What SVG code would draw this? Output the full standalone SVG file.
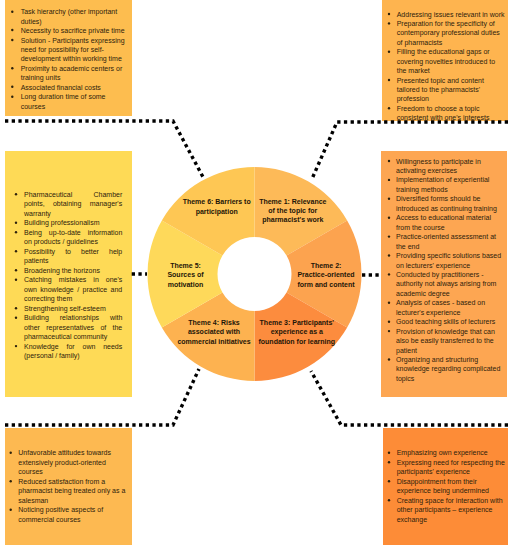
<svg xmlns="http://www.w3.org/2000/svg" width="514" height="550" viewBox="0 0 514 550">
<style>
.t{font-family:"Liberation Sans",Arial,sans-serif;font-size:7px;fill:#2e220c}
.th{font-family:"Liberation Sans",Arial,sans-serif;font-size:7px;font-weight:bold;fill:#1e1608;text-anchor:middle}
.b{fill:#2e220c}
.c{fill:none;stroke:#000;stroke-width:3.4;stroke-dasharray:3.3 3.4}
</style>
<rect width="514" height="550" fill="#fff"/>

<g id="box-barriers">
<rect x="5" y="0" width="127" height="116" fill="#FDBD4F"/>
<circle class="b" cx="12.3" cy="11.7" r="1.2"/><circle class="b" cx="12.3" cy="30" r="1.2"/><circle class="b" cx="12.3" cy="40" r="1.2"/><circle class="b" cx="12.3" cy="68.3" r="1.2"/><circle class="b" cx="12.3" cy="86.7" r="1.2"/><circle class="b" cx="12.3" cy="96.7" r="1.2"/>
<text class="t">
<tspan x="20.7" y="14.2">Task hierarchy (other important</tspan>
<tspan x="20.7" y="23.6">duties)</tspan>
<tspan x="20.7" y="33">Necessity to sacrifice private time</tspan>
<tspan x="20.7" y="42.5">Solution - Participants expressing</tspan>
<tspan x="20.7" y="51.9">need for possibility for self-</tspan>
<tspan x="20.7" y="61.3">development within working time</tspan>
<tspan x="20.7" y="70.8">Proximity to academic centers or</tspan>
<tspan x="20.7" y="80.2">training units</tspan>
<tspan x="20.7" y="89.6">Associated financial costs</tspan>
<tspan x="20.7" y="99.1">Long duration time of some</tspan>
<tspan x="20.7" y="108.5">courses</tspan>
</text>
</g>

<g id="box-relevance">
<rect x="382" y="0" width="126" height="121" fill="#FEB44F"/>
<circle class="b" cx="389" cy="14" r="1.2"/><circle class="b" cx="389" cy="23.4" r="1.2"/><circle class="b" cx="389" cy="51.7" r="1.2"/><circle class="b" cx="389" cy="80" r="1.2"/><circle class="b" cx="389" cy="108.3" r="1.2"/>
<text class="t">
<tspan x="396.7" y="16.5">Addressing issues relevant in work</tspan>
<tspan x="396.7" y="25.9">Preparation for the specificity of</tspan>
<tspan x="396.7" y="35.4">contemporary professional duties</tspan>
<tspan x="396.7" y="44.8">of pharmacists</tspan>
<tspan x="396.7" y="54.2">Filling the educational gaps or</tspan>
<tspan x="396.7" y="63.7">covering novelties introduced to</tspan>
<tspan x="396.7" y="73.1">the market</tspan>
<tspan x="396.7" y="82.5">Presented topic and content</tspan>
<tspan x="396.7" y="91.9">tailored to the pharmacists'</tspan>
<tspan x="396.7" y="101.4">profession</tspan>
<tspan x="396.7" y="110.8">Freedom to choose a topic</tspan>
<tspan x="396.7" y="120.2">consistent with one's interests</tspan>
</text>
</g>

<g id="box-motivation">
<rect x="5" y="151" width="127" height="246" fill="#FEDA56"/>
<circle class="b" cx="16" cy="194.3" r="1.2"/><circle class="b" cx="16" cy="222.8" r="1.2"/><circle class="b" cx="16" cy="232.3" r="1.2"/><circle class="b" cx="16" cy="251.2" r="1.2"/><circle class="b" cx="16" cy="270.2" r="1.2"/><circle class="b" cx="16" cy="279.7" r="1.2"/><circle class="b" cx="16" cy="308.2" r="1.2"/><circle class="b" cx="16" cy="317.7" r="1.2"/><circle class="b" cx="16" cy="346.1" r="1.2"/>
<text class="t">
<tspan x="24" y="196.8" word-spacing="19.3">Pharmaceutical Chamber</tspan>
<tspan x="24" y="206.3" word-spacing="6.4">points, obtaining manager's</tspan>
<tspan x="24" y="215.8">warranty</tspan>
<tspan x="24" y="225.3">Building professionalism</tspan>
<tspan x="24" y="234.8" word-spacing="5">Being up-to-date information</tspan>
<tspan x="24" y="244.2">on products / guidelines</tspan>
<tspan x="24" y="253.7" word-spacing="8.1">Possibility to better help</tspan>
<tspan x="24" y="263.2">patients</tspan>
<tspan x="24" y="272.7">Broadening the horizons</tspan>
<tspan x="24" y="282.2" word-spacing="5.1">Catching mistakes in one's</tspan>
<tspan x="24" y="291.7" word-spacing="1.5">own knowledge / practice and</tspan>
<tspan x="24" y="301.2">correcting them</tspan>
<tspan x="24" y="310.7">Strengthening self-esteem</tspan>
<tspan x="24" y="320.2" word-spacing="8.9">Building relationships with</tspan>
<tspan x="24" y="329.7" word-spacing="4.35">other representatives of the</tspan>
<tspan x="24" y="339.2">pharmaceutical community</tspan>
<tspan x="24" y="348.6" word-spacing="5.9">Knowledge for own needs</tspan>
<tspan x="24" y="358.1">(personal / family)</tspan>
</text>
</g>

<g id="box-practice">
<rect x="381" y="151" width="126" height="246" fill="#FDA652"/>
<circle class="b" cx="389" cy="161" r="1.2"/><circle class="b" cx="389" cy="179.9" r="1.2"/><circle class="b" cx="389" cy="198.8" r="1.2"/><circle class="b" cx="389" cy="217.7" r="1.2"/><circle class="b" cx="389" cy="236.6" r="1.2"/><circle class="b" cx="389" cy="255.5" r="1.2"/><circle class="b" cx="389" cy="274.4" r="1.2"/><circle class="b" cx="389" cy="302.8" r="1.2"/><circle class="b" cx="389" cy="321.7" r="1.2"/><circle class="b" cx="389" cy="331.1" r="1.2"/><circle class="b" cx="389" cy="359.5" r="1.2"/>
<text class="t">
<tspan x="396" y="163.5">Willingness to participate in</tspan>
<tspan x="396" y="173">activating exercises</tspan>
<tspan x="396" y="182.4">Implementation of experiential</tspan>
<tspan x="396" y="191.9">training methods</tspan>
<tspan x="396" y="201.3">Diversified forms should be</tspan>
<tspan x="396" y="210.8">introduced as continuing training</tspan>
<tspan x="396" y="220.2">Access to educational material</tspan>
<tspan x="396" y="229.7">from the course</tspan>
<tspan x="396" y="239.1">Practice-oriented assessment at</tspan>
<tspan x="396" y="248.6">the end</tspan>
<tspan x="396" y="258">Providing specific solutions based</tspan>
<tspan x="396" y="267.5">on lecturers' experience</tspan>
<tspan x="396" y="276.9">Conducted by practitioners -</tspan>
<tspan x="396" y="286.4">authority not always arising from</tspan>
<tspan x="396" y="295.8">academic degree</tspan>
<tspan x="396" y="305.3">Analysis of cases - based on</tspan>
<tspan x="396" y="314.7">lecturer's experience</tspan>
<tspan x="396" y="324.2">Good teaching skills of lecturers</tspan>
<tspan x="396" y="333.6">Provision of knowledge that can</tspan>
<tspan x="396" y="343.1">also be easily transferred to the</tspan>
<tspan x="396" y="352.5">patient</tspan>
<tspan x="396" y="362">Organizing and structuring</tspan>
<tspan x="396" y="371.4">knowledge regarding complicated</tspan>
<tspan x="396" y="380.9">topics</tspan>
</text>
</g>

<g id="box-risks">
<rect x="5" y="428" width="127" height="117" fill="#FDB951"/>
<circle class="b" cx="10.7" cy="452.7" r="1.2"/><circle class="b" cx="10.7" cy="481.2" r="1.2"/><circle class="b" cx="10.7" cy="509.7" r="1.2"/>
<text class="t">
<tspan x="18.3" y="455.2">Unfavorable attitudes towards</tspan>
<tspan x="18.3" y="464.7">extensively product-oriented</tspan>
<tspan x="18.3" y="474.2">courses</tspan>
<tspan x="18.3" y="483.7">Reduced satisfaction from a</tspan>
<tspan x="18.3" y="493.2">pharmacist being treated only as a</tspan>
<tspan x="18.3" y="502.7">salesman</tspan>
<tspan x="18.3" y="512.2">Noticing positive aspects of</tspan>
<tspan x="18.3" y="521.8">commercial courses</tspan>
</text>
</g>

<g id="box-experience">
<rect x="383" y="428" width="125" height="117" fill="#FD8C37"/>
<circle class="b" cx="389" cy="452.7" r="1.2"/><circle class="b" cx="389" cy="462.2" r="1.2"/><circle class="b" cx="389" cy="481.2" r="1.2"/><circle class="b" cx="389" cy="500.2" r="1.2"/>
<text class="t">
<tspan x="396.7" y="455.2">Emphasizing own experience</tspan>
<tspan x="396.7" y="464.7">Expressing need for respecting the</tspan>
<tspan x="396.7" y="474.2">participants' experience</tspan>
<tspan x="396.7" y="483.7">Disappointment from their</tspan>
<tspan x="396.7" y="493.2">experience being undermined</tspan>
<tspan x="396.7" y="502.7">Creating space for interaction with</tspan>
<tspan x="396.7" y="512.2">other participants – experience</tspan>
<tspan x="396.7" y="521.8">exchange</tspan>
</text>
</g>

<g id="theme1">
<path d="M254.5,167 A107,107 0 0 1 347.16,220.5 L286.54,255.5 A37,37 0 0 0 254.5,237 Z" fill="#FDBA58"/>
<text class="th"><tspan x="292.8" y="203.5">Theme 1: Relevance</tspan><tspan x="292.8" y="212.8">of the topic for</tspan><tspan x="292.8" y="222.2">pharmacist's work</tspan></text>
</g>
<g id="theme2">
<path d="M347.16,220.5 A107,107 0 0 1 347.16,327.5 L286.54,292.5 A37,37 0 0 0 286.54,255.5 Z" fill="#FCA34F"/>
<text class="th"><tspan x="326" y="267.5">Theme 2:</tspan><tspan x="326" y="277.2">Practice-oriented</tspan><tspan x="326" y="286.8">form and content</tspan></text>
</g>
<g id="theme3">
<path d="M347.16,327.5 A107,107 0 0 1 254.5,381 L254.5,311 A37,37 0 0 0 286.54,292.5 Z" fill="#FC8C3E"/>
<text class="th"><tspan x="296.8" y="324.8">Theme 3: Participants'</tspan><tspan x="296.8" y="334.2">experience as a</tspan><tspan x="296.8" y="344.2">foundation for learning</tspan></text>
</g>
<g id="theme4">
<path d="M254.5,381 A107,107 0 0 1 161.84,327.5 L222.46,292.5 A37,37 0 0 0 254.5,311 Z" fill="#FDB250"/>
<text class="th"><tspan x="214" y="324.8">Theme 4: Risks</tspan><tspan x="214" y="334.2">associated with</tspan><tspan x="214" y="344.2">commercial initiatives</tspan></text>
</g>
<g id="theme5">
<path d="M161.84,327.5 A107,107 0 0 1 161.84,220.5 L222.46,255.5 A37,37 0 0 0 222.46,292.5 Z" fill="#FED95A"/>
<text class="th"><tspan x="185.5" y="267.5">Theme 5:</tspan><tspan x="185.5" y="277.2">Sources of</tspan><tspan x="185.5" y="286.8">motivation</tspan></text>
</g>
<g id="theme6">
<path d="M161.84,220.5 A107,107 0 0 1 254.5,167 L254.5,237 A37,37 0 0 0 222.46,255.5 Z" fill="#FEC754"/>
<text class="th"><tspan x="216.7" y="204.2">Theme 6: Barriers to</tspan><tspan x="216.7" y="213.5">participation</tspan></text>
</g>

<g id="connectors">
<path class="c" d="M5,121 H173 L203,177"/>
<path class="c" d="M508,122 H337 L311.5,180"/>
<path class="c" d="M131.7,274 H147"/>
<path class="c" d="M362,275 H381"/>
<path class="c" d="M5,425 H173 L199,369"/>
<path class="c" d="M508,425 H341 L311,371"/>
</g>
</svg>
